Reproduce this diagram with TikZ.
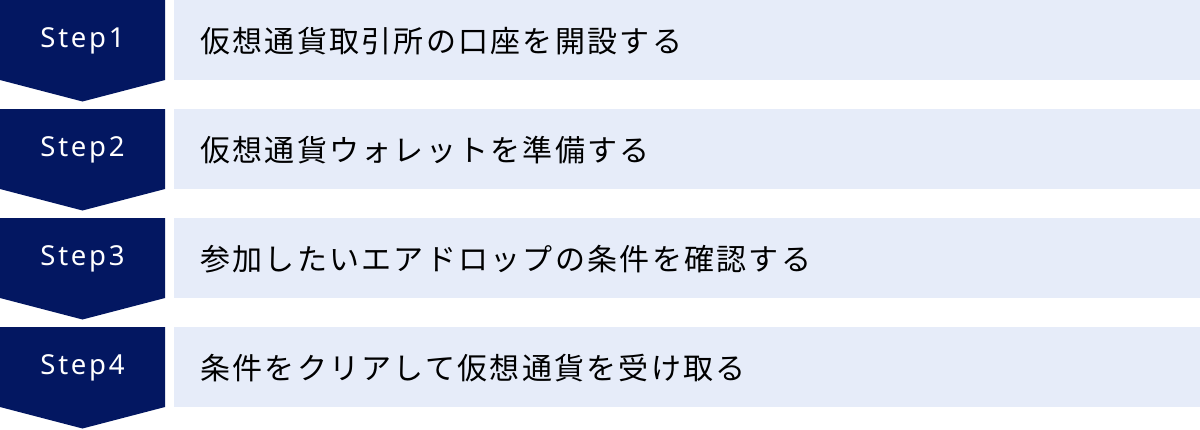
\documentclass[tikz,border=0pt]{standalone}
\usepackage{fontspec}
\setmainfont{Noto Sans}
\newfontfamily\jpfont[LetterSpace=7.6]{Noto Sans CJK JP}
\newfontfamily\stepfont[LetterSpace=10]{Noto Sans}
\definecolor{navy}{RGB}{3,23,97}
\definecolor{lightbox}{RGB}{230,236,249}
\begin{document}
\begin{tikzpicture}[x=1pt,y=-1pt,
  chev/.style={fill=navy,draw=none},
  steplabel/.style={text=white,font=\stepfont\fontsize{27.5}{32}\selectfont,inner sep=0pt,anchor=center},
  taskbox/.style={fill=lightbox,draw=none,anchor=north west,minimum width=1026pt,minimum height=80pt,inner sep=0pt},
  tasktext/.style={font=\jpfont\fontsize{30}{36}\selectfont,text=black,anchor=west,inner sep=0pt}]
\useasboundingbox (0,0) rectangle (1200,429);
\foreach \i/\r/\t in {1/0/仮想通貨取引所の口座を開設する,2/109/仮想通貨ウォレットを準備する,3/218/参加したいエアドロップの条件を確認する,4/327/条件をクリアして仮想通貨を受け取る}{
  \fill[chev] (0,\r) -- (165,\r) -- (165,\r+80) -- (82.5,\r+101.5) -- (0,\r+80) -- cycle;
  \node[steplabel] (s\i) at (82.5,\r+41) {Step\i};
  \node[taskbox] (b\i) at (174,\r) {};
  \node[tasktext] (t\i) at ([xshift=26pt,yshift=-0.5pt]b\i.west) {\t};
}
\end{tikzpicture}
\end{document}
